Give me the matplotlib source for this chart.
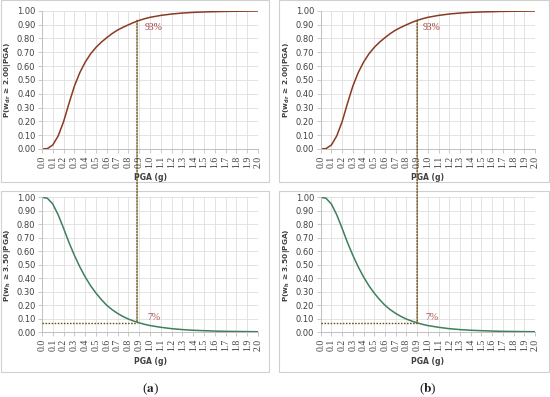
import matplotlib
matplotlib.use("Agg")
import matplotlib.pyplot as plt
from matplotlib.patches import Rectangle, ConnectionPatch

# ---------------- data ----------------
pga = [0.00, 0.05, 0.10, 0.15, 0.20, 0.25, 0.30, 0.35, 0.40, 0.45, 0.50,
       0.55, 0.60, 0.65, 0.70, 0.75, 0.80, 0.85, 0.90, 0.95, 1.00,
       1.10, 1.20, 1.30, 1.40, 1.50, 1.60, 1.70, 1.80, 1.90, 2.00]
p_dr_200 = [0.000, 0.003, 0.029, 0.095, 0.198, 0.330, 0.455, 0.552, 0.628, 0.688, 0.735,
            0.773, 0.805, 0.835, 0.860, 0.880, 0.898, 0.915, 0.930, 0.942, 0.952,
            0.966, 0.976, 0.983, 0.988, 0.991, 0.993, 0.995, 0.996, 0.997, 0.998]
p_h_350 = [1.000, 0.993, 0.950, 0.870, 0.770, 0.665, 0.570, 0.485, 0.410, 0.345, 0.290,
           0.242, 0.200, 0.167, 0.140, 0.117, 0.098, 0.083, 0.070, 0.059, 0.050,
           0.037, 0.027, 0.020, 0.015, 0.012, 0.009, 0.007, 0.006, 0.005, 0.004]
x_ticks = [round(0.1 * i, 1) for i in range(21)]
x_tick_labels = [f"{v:.1f}" for v in x_ticks]
y_ticks = [round(0.1 * i, 1) for i in range(11)]
y_tick_labels = [f"{v:.2f}" for v in y_ticks]
marker_pga = [0.88, 0.90]          # panel (a), panel (b)
top_marker_value = 0.93
bot_marker_value = 0.07
top_text = "93%"
bot_text = "7%"
panel_labels = ["a", "b"]
top_ylabel = r"P(w$_{\mathbf{dr}}$ ≥ 2.00|PGA)"
bot_ylabel = r"P(w$_{\mathbf{h}}$ ≥ 3.50|PGA)"
xlabel = "PGA (g)"

# ---------------- style ----------------
W, H = 550, 397
fig = plt.figure(figsize=(W / 100, H / 100), dpi=100)
plt.rcParams["mathtext.fontset"] = "dejavusans"

red = "#8B3A22"
green = "#3E7F5C"
dot_col = "#6B4A10"
grid_col = "#DEDEDE"
txt_col = "#404040"


def px_axes(l, r, t, b):
    return [l / W, 1 - b / H, (r - l) / W, (b - t) / H]


def style(ax, ylabel):
    ax.set_xlim(0, 2.0)
    ax.set_ylim(0, 1.0)
    ax.set_xticks(x_ticks)
    ax.set_xticklabels(x_tick_labels, rotation=90, family="Liberation Serif",
                       fontsize=7.0, color=txt_col)
    ax.set_yticks(y_ticks)
    ax.set_yticklabels(y_tick_labels, family="DejaVu Sans", fontsize=6.0,
                       color=txt_col)
    ax.tick_params(axis="both", length=3.2, width=0.6, color="#BFBFBF", pad=1.5)
    ax.grid(True, color=grid_col, linewidth=0.6)
    ax.set_axisbelow(True)
    for s in ["top", "right"]:
        ax.spines[s].set_visible(False)
    for s in ["left", "bottom"]:
        ax.spines[s].set_color("#BFBFBF")
        ax.spines[s].set_linewidth(0.7)
    ax.set_ylabel(ylabel, fontsize=5.3, fontweight="bold", color=txt_col,
                  family="DejaVu Sans", labelpad=3)
    ax.set_xlabel(xlabel, fontsize=5.5, fontweight="bold", color=txt_col,
                  family="DejaVu Sans", labelpad=4)


# panel frames
for (l, r, t, b) in [(1, 269, 0, 182), (279, 549, 0, 182),
                     (1, 269, 191, 372), (279, 549, 191, 372)]:
    fig.patches.append(Rectangle((l / W, 1 - b / H), (r - l) / W, (b - t) / H,
                                 transform=fig.transFigure, fill=False,
                                 edgecolor="#D0D0D0", linewidth=0.8))

lefts = [(42, 258), (320.7, 535)]
for i, (l, r) in enumerate(lefts):
    ax_t = fig.add_axes(px_axes(l, r, 10.7, 149))
    ax_b = fig.add_axes(px_axes(l, r, 197.3, 332.3))
    style(ax_t, top_ylabel)
    style(ax_b, bot_ylabel)
    ax_t.plot(pga, p_dr_200, color=red, linewidth=1.1)
    ax_b.plot(pga, p_h_350, color=green, linewidth=1.1)

    xm = marker_pga[i]
    # horizontal dotted line in the lower panel
    ax_b.plot([0, xm], [bot_marker_value, bot_marker_value],
              linestyle=(0, (1.1, 1.1)), color=dot_col, linewidth=1.0, zorder=3)
    # vertical dotted line joining both panels
    con = ConnectionPatch(xyA=(xm, top_marker_value), coordsA=ax_t.transData,
                          xyB=(xm, bot_marker_value), coordsB=ax_b.transData,
                          linestyle=(0, (1.1, 1.1)), color=dot_col, linewidth=1.0,
                          zorder=5)
    fig.add_artist(con)

    ax_t.text(1.03, 0.875, top_text, ha="center", va="center",
              family="Liberation Serif", fontsize=7, color="#A33A3A")
    ax_b.text(1.04, 0.11, bot_text, ha="center", va="center",
              family="Liberation Serif", fontsize=7, color="#B05A5A")

    fig.text(((l + r) / 2) / W, 1 - 389 / H,
             "(" + r"$\mathbf{" + panel_labels[i] + "}$" + ")",
             ha="center", va="center", fontsize=9.5, color="#222222",
             family="Liberation Serif", math_fontfamily="stix")

fig.savefig("out.png", dpi=100, facecolor="white")
